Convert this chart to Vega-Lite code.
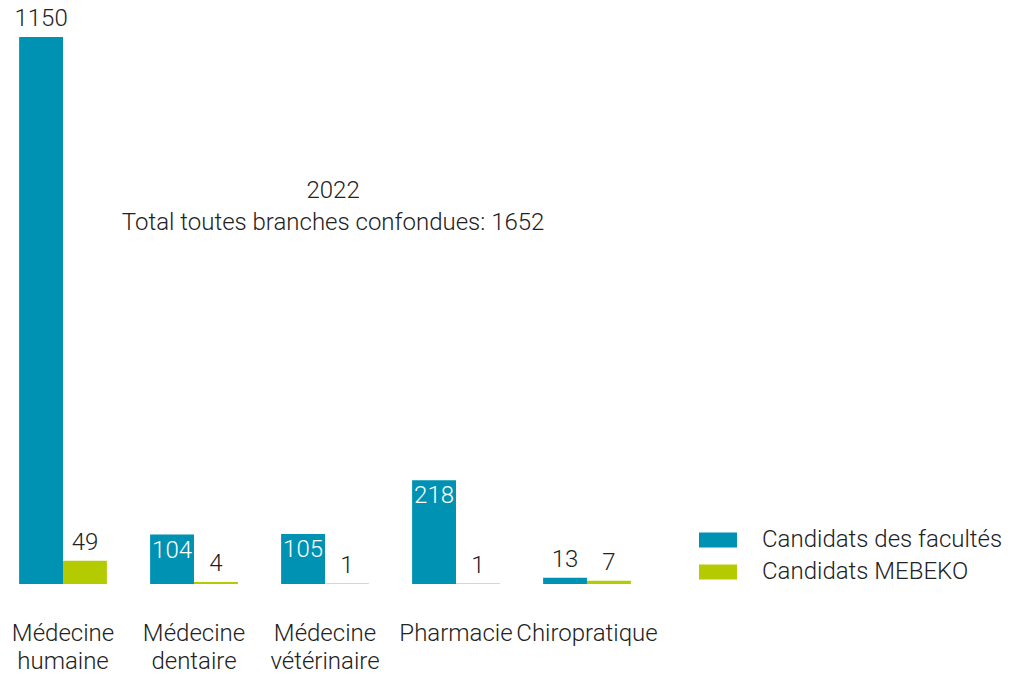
{
  "$schema": "https://vega.github.io/schema/vega-lite/v6.json",
  "width": 650,
  "height": 547,
  "autosize": {"type": "none"},
  "padding": {"left": 0, "top": 37, "right": 372, "bottom": 90},
  "background": "white",
  "config": {
    "view": {"stroke": null},
    "font": "Roboto",
    "text": {"font": "Roboto", "fontSize": 24, "fontWeight": 300}
  },
  "data": {
    "values": [
      {"branche": "Médecine humaine", "serie": "Candidats des facultés", "valeur": 1150},
      {"branche": "Médecine humaine", "serie": "Candidats MEBEKO", "valeur": 49},
      {"branche": "Médecine dentaire", "serie": "Candidats des facultés", "valeur": 104},
      {"branche": "Médecine dentaire", "serie": "Candidats MEBEKO", "valeur": 4},
      {"branche": "Médecine vétérinaire", "serie": "Candidats des facultés", "valeur": 105},
      {"branche": "Médecine vétérinaire", "serie": "Candidats MEBEKO", "valeur": 1},
      {"branche": "Pharmacie", "serie": "Candidats des facultés", "valeur": 218},
      {"branche": "Pharmacie", "serie": "Candidats MEBEKO", "valeur": 1},
      {"branche": "Chiropratique", "serie": "Candidats des facultés", "valeur": 13},
      {"branche": "Chiropratique", "serie": "Candidats MEBEKO", "valeur": 7}
    ]
  },
  "encoding": {
    "x": {
      "field": "branche", "type": "nominal", "sort": null,
      "scale": {"paddingInner": 0.33, "paddingOuter": 0.146},
      "axis": {
        "title": null, "domain": false, "ticks": false, "labelAngle": 0,
        "labelPadding": 37, "labelFont": "Roboto", "labelFontSize": 24, "labelFontWeight": 300,
        "labelColor": "#222222", "labelLineHeight": 28,
        "labelExpr": "split(datum.label, ' ')", "labelBaseline": "top"
      }
    },
    "xOffset": {"field": "serie", "type": "nominal", "sort": ["Candidats des facultés", "Candidats MEBEKO"], "scale": {"paddingInner": 0, "paddingOuter": 0}},
    "y": {"field": "valeur", "type": "quantitative", "scale": {"domain": [0, 1150], "nice": false}, "axis": null}
  },
  "layer": [
    {
      "mark": {"type": "bar"},
      "encoding": {
        "color": {
          "field": "serie", "type": "nominal",
          "scale": {"domain": ["Candidats des facultés", "Candidats MEBEKO"], "range": ["#0092b3", "#b3cb00"]},
          "legend": {
            "title": null, "orient": "none", "legendX": 699, "legendY": 484,
            "padding": 0, "rowPadding": 1, "labelFont": "Roboto", "labelFontSize": 24, "labelFontWeight": 300,
            "labelColor": "#222222", "labelOffset": 25, "labelLimit": 0,
            "symbolType": "M-1,-0.4H1V0.4H-1Z", "symbolSize": 1444, "symbolStrokeWidth": 0, "symbolOpacity": 1
          }
        }
      }
    },
    {
      "transform": [{"filter": "datum.valeur < 100 || datum.valeur >= 1000"}],
      "mark": {"type": "text", "baseline": "bottom", "dy": -6, "color": "#222222", "fontWeight": 300},
      "encoding": {"text": {"field": "valeur", "type": "quantitative"}}
    },
    {
      "transform": [{"filter": "datum.valeur >= 100 && datum.valeur < 1000"}],
      "mark": {"type": "text", "baseline": "top", "dy": 4, "color": "white", "fontWeight": 300},
      "encoding": {"text": {"field": "valeur", "type": "quantitative"}}
    },
    {
      "transform": [{"filter": "datum.valeur == 1150"}],
      "mark": {"type": "text", "baseline": "middle", "color": "#222222", "lineHeight": 32, "fontWeight": 300},
      "encoding": {
        "x": {"datum": "Médecine vétérinaire"},
        "y": {"datum": 827},
        "xOffset": {"value": 52},
        "text": {"value": ["2022", "Total toutes branches confondues: 1652"]}
      }
    }
  ]
}
